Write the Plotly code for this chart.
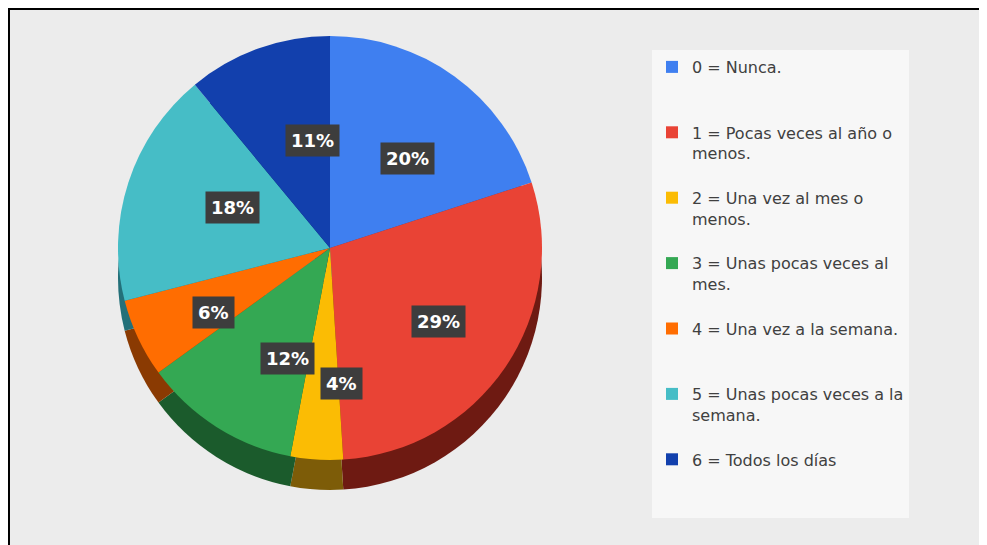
import math
import plotly.graph_objects as go

# ---- data ----
categories = [
    "0 = Nunca.<br> <br> ",
    "1 = Pocas veces al año o<br>menos.<br> ",
    "2 = Una vez al mes o<br>menos.<br> ",
    "3 = Unas pocas veces al<br>mes.<br> ",
    "4 = Una vez a la semana.<br> <br> ",
    "5 = Unas pocas veces a la<br>semana.<br> ",
    "6 = Todos los días<br> <br> ",
]
percentages = [20, 29, 4, 12, 6, 18, 11]
colors = ["#3f7ff0", "#e94335", "#fbbc04", "#34a853", "#ff6d01", "#46bdc6", "#1240ad"]
side_colors = ["#234f9e", "#6e1a12", "#7d5c08", "#1b5b2c", "#8a3a02", "#237079", "#0a2463"]

W, H = 987, 545
cx, cy, R = 322, 240, 212          # pie centre / radius in pixels
depth = 30

def dom(cy_):
    return dict(x=[(cx - R) / W, (cx + R) / W],
                y=[(H - cy_ - R) / H, (H - cy_ + R) / H])

fig = go.Figure()
# extruded side (shadow pie)
fig.add_trace(go.Pie(
    labels=categories, values=percentages, sort=False, direction="clockwise",
    rotation=0, marker=dict(colors=side_colors, line=dict(width=0)),
    textinfo="none", hoverinfo="skip", showlegend=False, domain=dom(cy + depth),
))
# top face
fig.add_trace(go.Pie(
    labels=categories, values=percentages, sort=False, direction="clockwise",
    rotation=0, marker=dict(colors=colors, line=dict(width=0)),
    textinfo="none", showlegend=True, domain=dom(cy),
))

# percentage labels in dark boxes, placed at slice mid-angles
total = sum(percentages)
cum = 0
for v in percentages:
    mid = (cum + v / 2) / total * 2 * math.pi
    cum += v
    f = 0.62 if v >= 8 else 0.72
    px = cx + f * R * math.sin(mid)
    py = cy - f * R * math.cos(mid)
    fig.add_annotation(
        x=px / W, y=1 - py / H, xref="paper", yref="paper",
        text=f"<b>{v}%</b>", showarrow=False,
        font=dict(family="DejaVu Sans", size=18, color="white"),
        bgcolor="#3d3d3d", borderpad=5,
    )

fig.update_layout(
    width=W, height=H,
    margin=dict(l=0, r=0, t=0, b=0),
    paper_bgcolor="white",
    shapes=[dict(type="rect", xref="paper", yref="paper",
                 x0=0.001, x1=1.01, y0=-0.01, y1=0.998,
                 line=dict(color="black", width=2), fillcolor="#ececec", layer="below")],
    legend=dict(
        x=644 / W, y=1 - 42 / H, xanchor="left", yanchor="top",
        bgcolor="#f7f7f7", valign="top",
        font=dict(family="DejaVu Sans", size=16, color="#404040"),
        itemwidth=30, tracegroupgap=0,
    ),
)

fig.write_html("out.html")
